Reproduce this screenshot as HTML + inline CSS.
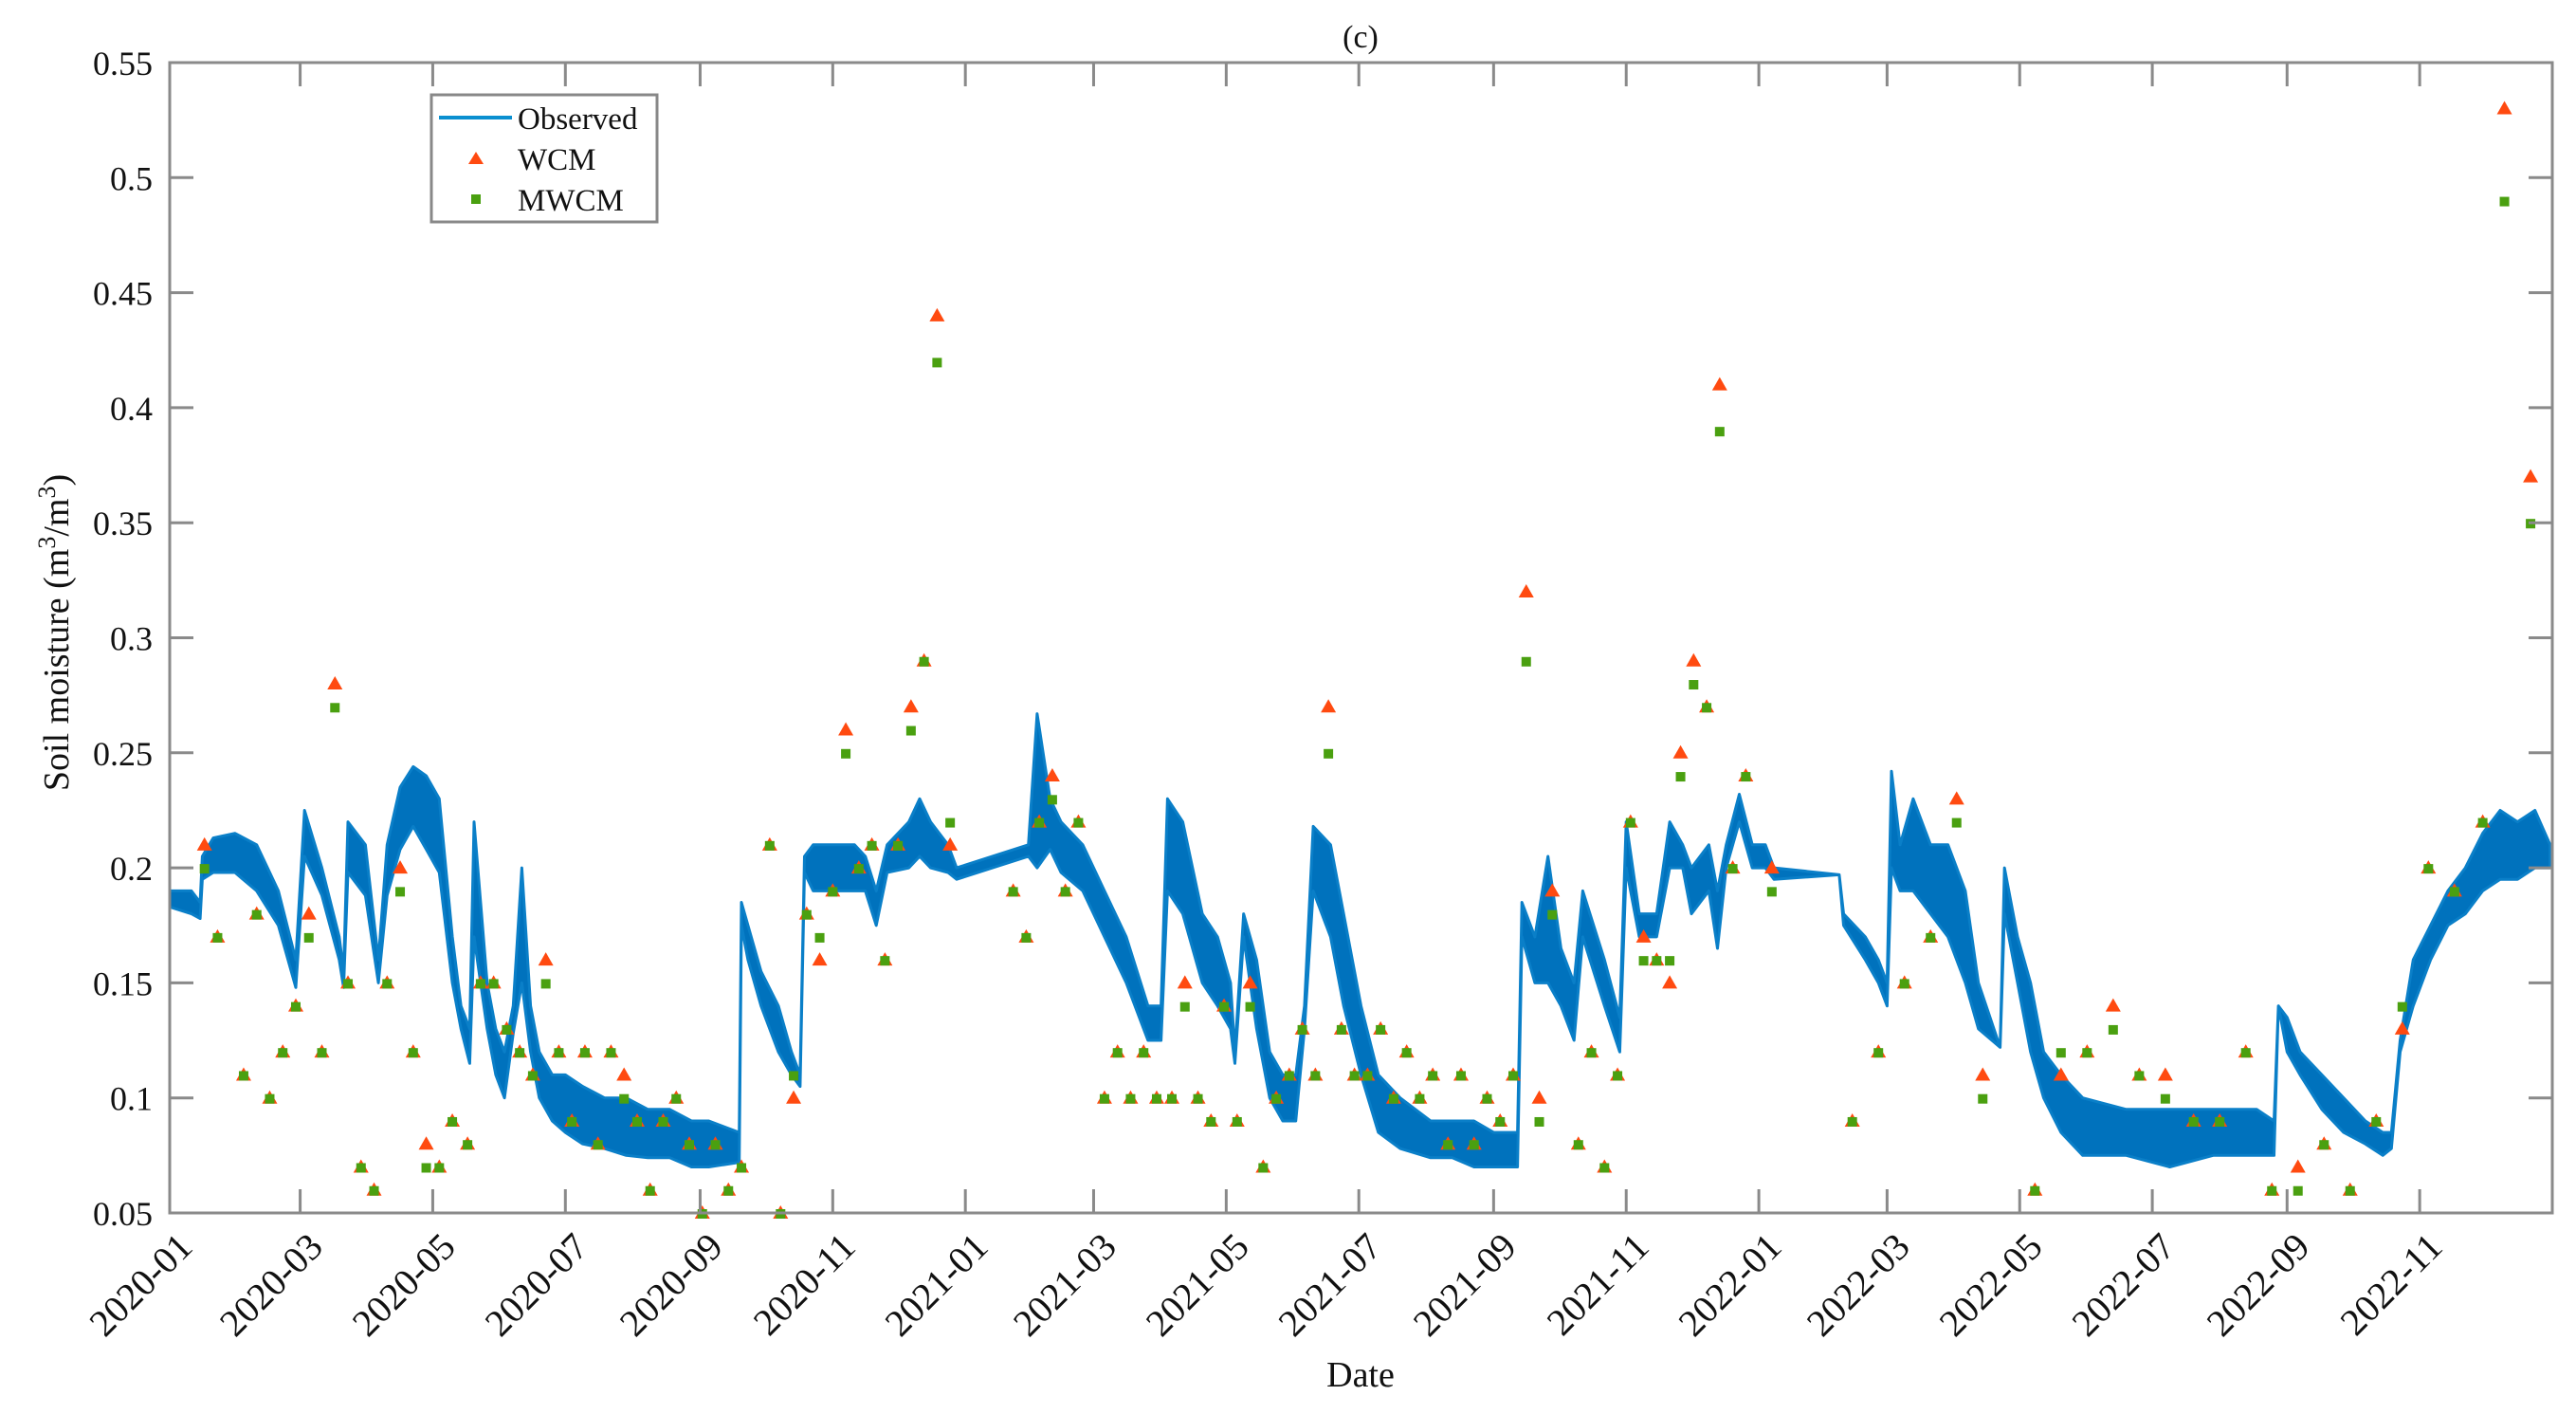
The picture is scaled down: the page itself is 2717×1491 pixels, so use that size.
<!DOCTYPE html>
<html><head><meta charset="utf-8">
<style>
html,body{margin:0;padding:0;background:#fff;}
svg{display:block;font-family:"Liberation Serif","Times New Roman",serif;}
</style></head>
<body>
<svg id="chart" width="2717" height="1491" viewBox="0 0 2717 1491" xmlns="http://www.w3.org/2000/svg">
<rect width="2717" height="1491" fill="#fff"/>
<text x="1435" y="50" font-size="34" text-anchor="middle" fill="#111">(c)</text>
<g id="plot"></g>
<text transform="translate(72,667) rotate(-90)" font-size="38" text-anchor="middle" fill="#111">Soil moisture (m<tspan baseline-shift="super" font-size="26">3</tspan>/m<tspan baseline-shift="super" font-size="26">3</tspan>)</text>
<text x="1435" y="1462" font-size="38" text-anchor="middle" fill="#111">Date</text>
<g>
<rect x="455" y="100" width="238" height="134" fill="#fff" stroke="#888" stroke-width="3"/>
<line x1="463" y1="124" x2="540" y2="124" stroke="#0a8fd0" stroke-width="4"/>
<text x="546" y="136" font-size="33" fill="#111">Observed</text>
<polygon points="502,160 510,173 494,173" fill="#ff4a10"/>
<text x="546" y="179" font-size="33" fill="#111">WCM</text>
<rect x="497" y="205" width="10" height="10" fill="#4aa010"/>
<text x="546" y="222" font-size="33" fill="#111">MWCM</text>
</g>
</svg>
<script>
// ---- data ----
const obsDays = [0,10,14,15,20,30,40,50,58,62,70,78,80,82,90,96,100,106,112,118,124,130,134,138,140,146,150,154,158,162,166,170,176,182,190,200,210,220,230,240,248,262,263,266,272,280,286,290,292,296,305,315,320,325,330,340,345,350,358,362,395,399,405,410,420,430,440,450,456,459,466,475,482,488,490,494,500,506,512,518,522,526,534,540,548,556,566,580,590,600,609,620,622,628,634,640,646,650,660,667,670,676,684,690,696,700,708,712,716,722,728,734,738,768,770,780,786,790,792,796,802,810,818,826,832,842,844,850,856,862,870,880,900,920,940,960,968,970,974,980,990,1000,1010,1018,1022,1026,1032,1040,1048,1056,1064,1072,1080,1088,1095];
const obsLow  = [.183,.18,.178,.195,.198,.198,.19,.175,.148,.205,.188,.16,.148,.198,.188,.15,.188,.208,.218,.208,.198,.15,.13,.115,.17,.13,.11,.10,.128,.15,.12,.10,.09,.085,.08,.078,.075,.074,.074,.07,.07,.072,.175,.16,.14,.12,.11,.105,.198,.19,.19,.19,.19,.175,.198,.20,.205,.20,.198,.195,.205,.20,.208,.198,.19,.17,.15,.125,.125,.19,.18,.15,.14,.13,.115,.17,.13,.10,.09,.09,.13,.19,.17,.14,.11,.085,.078,.074,.074,.07,.07,.07,.17,.15,.15,.14,.125,.17,.14,.12,.20,.17,.17,.20,.20,.18,.19,.165,.20,.22,.20,.20,.195,.197,.175,.16,.15,.14,.20,.19,.19,.18,.17,.15,.13,.122,.18,.15,.12,.10,.085,.075,.075,.07,.075,.075,.075,.14,.12,.11,.095,.085,.08,.075,.078,.12,.14,.16,.175,.18,.19,.195,.195,.20,.20];
const obsHigh = [.19,.19,.185,.205,.213,.215,.21,.19,.16,.225,.20,.17,.155,.22,.21,.16,.21,.235,.244,.24,.23,.17,.14,.13,.22,.15,.13,.12,.14,.20,.14,.12,.11,.11,.105,.10,.10,.095,.095,.09,.09,.085,.185,.175,.155,.14,.12,.11,.205,.21,.21,.21,.205,.19,.21,.22,.23,.22,.21,.20,.21,.267,.23,.22,.21,.19,.17,.14,.14,.23,.22,.18,.17,.15,.12,.18,.16,.12,.11,.11,.14,.218,.21,.18,.14,.11,.10,.09,.09,.09,.085,.085,.185,.17,.205,.165,.15,.19,.16,.135,.22,.18,.18,.22,.21,.20,.21,.19,.21,.232,.21,.21,.20,.197,.18,.17,.16,.15,.242,.21,.23,.21,.21,.19,.15,.122,.20,.17,.15,.12,.11,.10,.095,.095,.095,.095,.09,.14,.135,.12,.11,.10,.09,.085,.085,.125,.16,.175,.19,.20,.215,.225,.22,.225,.21];
const satDays = [16,22,34,40,46,52,58,64,70,76,82,88,94,100,106,112,118,124,130,137,143,149,155,161,167,173,179,185,191,197,203,209,215,221,227,233,239,245,251,257,263,276,281,287,293,299,305,311,317,323,329,335,341,347,353,359,388,394,400,406,412,418,430,436,442,448,454,461,467,473,479,485,491,497,503,509,515,521,527,533,539,545,551,557,563,569,575,581,588,594,600,606,612,618,624,630,636,648,654,660,666,672,678,684,690,695,701,707,713,719,725,737,774,786,798,810,822,834,858,870,882,894,906,918,931,943,955,967,979,991,1003,1015,1027,1039,1051,1064,1074,1086];
const wcmValues = [.21,.17,.11,.18,.10,.12,.14,.18,.12,.28,.15,.07,.06,.15,.20,.12,.08,.07,.09,.08,.15,.15,.13,.12,.11,.16,.12,.09,.12,.08,.12,.11,.09,.06,.09,.10,.08,.05,.08,.06,.07,.21,.05,.10,.18,.16,.19,.26,.20,.21,.16,.21,.27,.29,.44,.21,.19,.17,.22,.24,.19,.22,.10,.12,.10,.12,.10,.10,.15,.10,.09,.14,.09,.15,.07,.10,.11,.13,.11,.27,.13,.11,.11,.13,.10,.12,.10,.11,.08,.11,.08,.10,.09,.11,.32,.10,.19,.08,.12,.07,.11,.22,.17,.16,.15,.25,.29,.27,.41,.20,.24,.20,.09,.12,.15,.17,.23,.11,.06,.11,.12,.14,.11,.11,.09,.09,.12,.06,.07,.08,.06,.09,.13,.20,.19,.22,.53,.37];
const mwcmValues = [.20,.17,.11,.18,.10,.12,.14,.17,.12,.27,.15,.07,.06,.15,.19,.12,.07,.07,.09,.08,.15,.15,.13,.12,.11,.15,.12,.09,.12,.08,.12,.10,.09,.06,.09,.10,.08,.05,.08,.06,.07,.21,.05,.11,.18,.17,.19,.25,.20,.21,.16,.21,.26,.29,.42,.22,.19,.17,.22,.23,.19,.22,.10,.12,.10,.12,.10,.10,.14,.10,.09,.14,.09,.14,.07,.10,.11,.13,.11,.25,.13,.11,.11,.13,.10,.12,.10,.11,.08,.11,.08,.10,.09,.11,.29,.09,.18,.08,.12,.07,.11,.22,.16,.16,.16,.24,.28,.27,.39,.20,.24,.19,.09,.12,.15,.17,.22,.10,.06,.12,.12,.13,.11,.10,.09,.09,.12,.06,.06,.08,.06,.09,.14,.20,.19,.22,.49,.35];
const yTicks = [0.05,0.1,0.15,0.2,0.25,0.3,0.35,0.4,0.45,0.5,0.55];
const yTickLabels = ["0.05","0.1","0.15","0.2","0.25","0.3","0.35","0.4","0.45","0.5","0.55"];
const xTickDays = [0,60,121,182,244,305,366,425,486,547,609,670,731,790,851,912,974,1035];
const xTickLabels = ["2020-01","2020-03","2020-05","2020-07","2020-09","2020-11","2021-01","2021-03","2021-05","2021-07","2021-09","2021-11","2022-01","2022-03","2022-05","2022-07","2022-09","2022-11"];

// ---- axes ----
const L=179,R=2692,T=66,B=1279;
const xs = d => L + (d-0)/(1096-0)*(R-L);
const ys = v => B - (v-0.05)/(0.55-0.05)*(B-T);
const NS="http://www.w3.org/2000/svg";
const plot=document.getElementById('plot');
function mk(tag,attrs,parent){const e=document.createElementNS(NS,tag);for(const k in attrs)e.setAttribute(k,attrs[k]);(parent||plot).appendChild(e);return e;}

// observed band
const up = obsDays.map((d,i)=>xs(d).toFixed(1)+','+ys(obsHigh[i]).toFixed(1));
const lo = obsDays.map((d,i)=>xs(d).toFixed(1)+','+ys(obsLow[i]).toFixed(1)).reverse();
const band = mk('polygon',{points:up.concat(lo).join(' '),fill:'#0072bd',stroke:'#0a7fc8','stroke-width':3,'stroke-linejoin':'round'});



// WCM triangles
satDays.forEach((d,i)=>{
  const x=xs(d),y=ys(wcmValues[i]);
  const t=mk('polygon',{points:`${x},${y-8} ${x+8},${y+6} ${x-8},${y+6}`,fill:'#ff4a10'});
  
  
});
// MWCM squares
satDays.forEach((d,i)=>{
  const x=xs(d),y=ys(mwcmValues[i]);
  const s=mk('rect',{x:x-5,y:y-4,width:10,height:10,fill:'#4aa010'});
  
  
});

// box
const box=mk('rect',{x:L,y:T,width:R-L,height:B-T,fill:'none',stroke:'#8a8a8a','stroke-width':3});



// y ticks
yTicks.forEach((v,i)=>{
  const y=ys(v);
  mk('line',{x1:L,y1:y,x2:L+25,y2:y,stroke:'#8a8a8a','stroke-width':3});
  mk('line',{x1:R,y1:y,x2:R-25,y2:y,stroke:'#8a8a8a','stroke-width':3});
  const t=mk('text',{x:L-18,y:y+13,'font-size':36,'text-anchor':'end',fill:'#111'});
  t.textContent=yTickLabels[i];
  
  
});
// x ticks
xTickDays.forEach((d,i)=>{
  const x=xs(d);
  mk('line',{x1:x,y1:B,x2:x,y2:B-25,stroke:'#8a8a8a','stroke-width':3});
  mk('line',{x1:x,y1:T,x2:x,y2:T+25,stroke:'#8a8a8a','stroke-width':3});
  const t=mk('text',{transform:`translate(${x+26},${B+38}) rotate(-45)`,'font-size':40,'text-anchor':'end',fill:'#111'});
  t.textContent=xTickLabels[i];
  
  
});
</script>
</body></html>
